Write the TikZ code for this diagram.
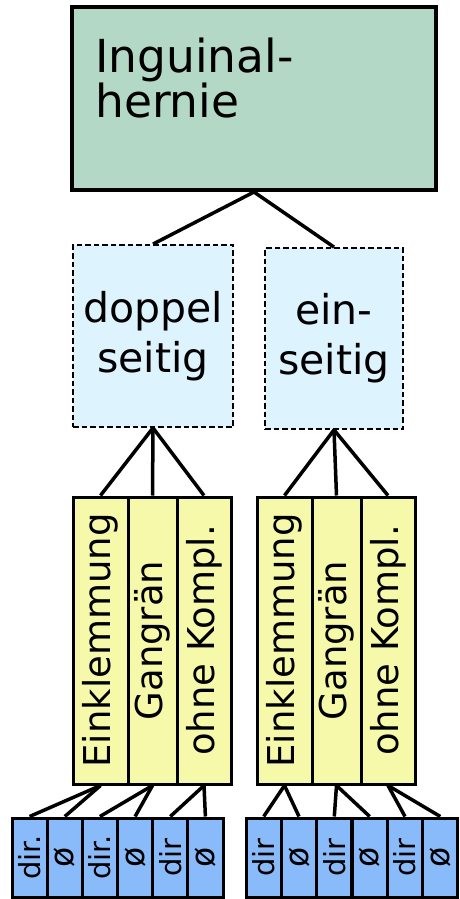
\documentclass[tikz,border=0pt]{standalone}
\usepackage{fontspec}
\setmainfont{DejaVu Sans}
\usepackage{xcolor}
\usetikzlibrary{positioning}

\definecolor{herniegreen}{HTML}{B3D9C6}
\definecolor{seitblue}{HTML}{DDF4FF}
\definecolor{komplyellow}{HTML}{F6F9A9}
\definecolor{dirblue}{HTML}{89BBFB}

\begin{document}
\begin{tikzpicture}[x=1pt, y=-1pt,
    topbox/.style={draw, line width=4pt, fill=herniegreen, minimum width=364pt, minimum height=183pt, inner sep=0pt},
    toptext/.style={inner sep=0pt, align=left, font=\fontsize{45.5}{44}\selectfont},
    sidebox/.style={draw, line width=1.8pt, dash pattern=on 5.5pt off 3pt, fill=seitblue, inner sep=0pt, align=center, font=\fontsize{41}{50}\selectfont},
    kompl/.style={draw, line width=3pt, fill=komplyellow, rotate=90, minimum width=287pt, inner sep=0pt, font=\fontsize{37}{40}\selectfont},
    dirbox/.style={draw, line width=3pt, fill=dirblue, rotate=90, minimum width=79pt, minimum height=35.2pt, inner sep=0pt, font=\fontsize{29}{30}\selectfont},
    nilbox/.style={dirbox, font=\fontsize{33}{34}\selectfont},
    conn/.style={line width=3.5pt}]
    \useasboundingbox (0,0) rectangle (459,899);

    % Nodes
    \node[topbox] (IH) at (254, 98.5) {};
    \node[toptext, anchor=north west] (IHtext) at (95, 37.5) {Inguinal-\\hernie};

    \node[sidebox, minimum width=160pt, minimum height=182pt] (DS) at (153, 336) {doppel\\seitig};
    \node[sidebox, minimum width=138pt, minimum height=181pt] (ES) at (334, 338.5) {ein-\\seitig};

    \node[kompl, minimum height=55pt] (DSE) at (100.5, 640.5) {Einklemmung};
    \node[kompl, minimum height=49pt] (DSG) at (152.5, 640.5) {Gangrän};
    \node[kompl, minimum height=54pt] (DSO) at (204, 640.5) {ohne Kompl.};
    \node[kompl, minimum height=55pt] (ESE) at (284.5, 640.5) {Einklemmung};
    \node[kompl, minimum height=49pt] (ESG) at (336.5, 640.5) {Gangrän};
    \node[kompl, minimum height=54pt] (ESO) at (388, 640.5) {ohne Kompl.};

    \node[dirbox] (DSEdir) at (29.6, 857.5) {dir.};
    \node[nilbox] (DSEnil) at (64.8, 857.5) {ø};
    \node[dirbox] (DSGdir) at (99.9, 857.5) {dir.};
    \node[nilbox] (DSGnil) at (135.1, 857.5) {ø};
    \node[dirbox] (DSOdir) at (170.3, 857.5) {dir};
    \node[nilbox] (DSOnil) at (205.4, 857.5) {ø};
    \node[dirbox] (ESEdir) at (263.7, 857.5) {dir};
    \node[nilbox] (ESEnil) at (299, 857.5) {ø};
    \node[dirbox] (ESGdir) at (334.3, 857.5) {dir};
    \node[nilbox] (ESGnil) at (369.7, 857.5) {ø};
    \node[dirbox] (ESOdir) at (405, 857.5) {dir};
    \node[nilbox] (ESOnil) at (440.3, 857.5) {ø};

    % Paths
    \draw[conn] (IH.south) -- (DS.north);
    \draw[conn] (IH.south) -- (ES.north);

    \draw[conn] (DS.south) -- (DSE.east);
    \draw[conn] (DS.south) -- (DSG.east);
    \draw[conn] (DS.south) -- (DSO.east);
    \draw[conn] (ES.south) -- (ESE.east);
    \draw[conn] (ES.south) -- (ESG.east);
    \draw[conn] (ES.south) -- (ESO.east);

    \draw[conn] (DSE.west) -- (DSEdir.east);
    \draw[conn] (DSE.west) -- (DSEnil.east);
    \draw[conn] (DSG.west) -- (DSGdir.east);
    \draw[conn] (DSG.west) -- (DSGnil.east);
    \draw[conn] (DSO.west) -- (DSOdir.east);
    \draw[conn] (DSO.west) -- (DSOnil.east);
    \draw[conn] (ESE.west) -- (ESEdir.east);
    \draw[conn] (ESE.west) -- (ESEnil.east);
    \draw[conn] (ESG.west) -- (ESGdir.east);
    \draw[conn] (ESG.west) -- (ESGnil.east);
    \draw[conn] (ESO.west) -- (ESOdir.east);
    \draw[conn] (ESO.west) -- (ESOnil.east);
\end{tikzpicture}
\end{document}
